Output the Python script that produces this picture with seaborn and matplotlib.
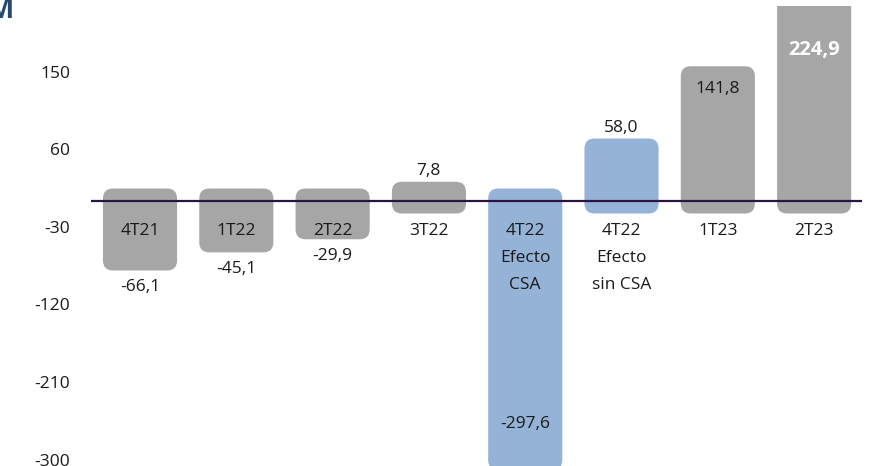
import numpy as np
import pandas as pd
import matplotlib
matplotlib.use("Agg")
import matplotlib.pyplot as plt
import seaborn as sns
from matplotlib.patches import FancyBboxPatch

# quarterly values
categories = ["4T21", "1T22", "2T22", "3T22", "4T22\nEfecto\nCSA", "4T22\nEfecto\nsin CSA", "1T23", "2T23"]
values = [-66.1, -45.1, -29.9, 7.8, -297.6, 58.0, 141.8, 224.9]
kind = ["base", "base", "base", "base", "csa", "csa", "base", "base"]
yticks = [150, 60, -30, -120, -210, -300]

palette = {"base": "#a6a6a6", "csa": "#95b3d7"}

df = pd.DataFrame({"cat": categories, "val": values, "kind": kind})

sns.set_style("white")
plt.rcParams["font.family"] = ["Open Sans", "DejaVu Sans"]

fig = plt.figure(figsize=(8.69, 4.66), dpi=100)
# axes top sits a few px below the figure edge (the original is cropped there)
ax = fig.add_axes([91 / 869, 0, (862 - 91) / 869, 460 / 466])

sns.barplot(data=df, x="cat", y="val", hue="kind", palette=palette, saturation=1,
            width=0.51, dodge=False, legend=False, ax=ax, zorder=2)

ax.set_xlim(-0.509, 7.497)
ax.set_ylim(-307.4, 226.2)

# swap the square bars for rounded boxes (padded, like the original)
px_x = 1 / 96.3
px_y = 1 / 0.862
aspect = px_y / px_x
for p in list(ax.patches):
    x0, y0 = p.get_x(), p.get_y()
    w, h = p.get_width(), p.get_height()
    if h < 0:
        y0, h = y0 + h, -h
    box = FancyBboxPatch((x0, y0), w, h,
                         boxstyle=f"round,pad={12.5 * px_x},rounding_size={10 * px_x}",
                         mutation_aspect=aspect, facecolor=p.get_facecolor(),
                         edgecolor="none", zorder=2)
    ax.add_patch(box)
    p.remove()

ax.axhline(0, color="#2b1342", lw=1.6, zorder=3)

# category labels under the zero line
for i, c in enumerate(categories):
    ax.text(i, -26, c, ha="center", va="top", fontsize=12.5,
            color="#1a1a1a", linespacing=1.9, zorder=4)

# value labels
vmin = min(values)
for i, v in enumerate(values):
    lab = f"{v:.1f}".replace(".", ",")
    color, weight, size = "#1a1a1a", "normal", 12.5
    if v == vmin:
        off = 34
    elif v < 0:
        off = -29
    elif v > 200:
        off = -43
        color, weight, size = "white", "bold", 14.5
    elif v > 100:
        off = -10
    else:
        off = 23
    ax.annotate(lab, (i, v), xytext=(0, off * 0.72), textcoords="offset points",
                ha="center", va="center", fontsize=size, color=color,
                fontweight=weight, zorder=4)

ax.set_yticks(yticks)
ax.set_yticklabels([str(t) for t in yticks], fontsize=12.5, color="#1a1a1a")
ax.tick_params(axis="y", length=0, pad=15)
ax.set_xticks([])
ax.set_xlabel("")
ax.set_ylabel("")
sns.despine(ax=ax, left=True, bottom=True)

# fragment of the cut-off title in the top-left corner
fig.text(-13 / 869, 1 - 18 / 466, "M", fontsize=20, fontweight="bold",
         color="#24496b", ha="left", va="baseline")

fig.savefig("out.png", dpi=100)
